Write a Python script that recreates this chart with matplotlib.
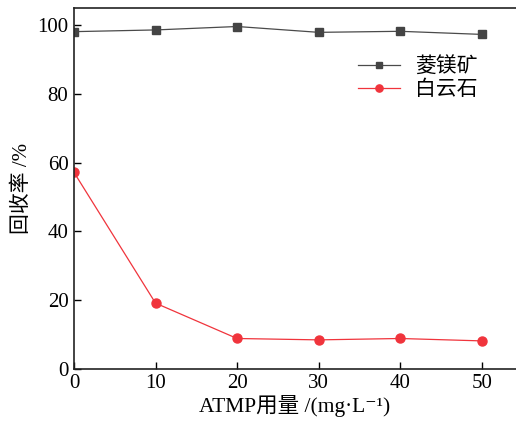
import matplotlib
matplotlib.use("Agg")
import matplotlib.pyplot as plt

plt.rcParams['font.family'] = ['Liberation Serif', 'Noto Sans CJK SC', 'DejaVu Sans']

dosage = [0, 10, 20, 30, 40, 50]
magnesite = [98.2, 98.7, 99.7, 98.0, 98.3, 97.4]
dolomite = [57.2, 19.1, 8.8, 8.4, 8.8, 8.1]
xticks = [0, 10, 20, 30, 40, 50]
yticks = [0, 20, 40, 60, 80, 100]

fig = plt.figure(figsize=(5.16, 4.22), dpi=100)
ax = fig.add_axes([0.1434, 0.1263, 0.8566, 0.8540])

ax.plot(dosage, magnesite, color='#4a4a4a', lw=0.9, marker='s', ms=6,
        mfc='#444444', mec='#444444', label='菱镁矿')
ax.plot(dosage, dolomite, color='#f0343c', lw=0.9, marker='o', ms=6.5,
        mfc='#f0343c', mec='#f0343c', label='白云石')

ax.set_xlim(0, 54.2)
ax.set_ylim(0, 105)
ax.set_xticks(xticks)
ax.set_yticks(yticks)
ax.tick_params(direction='in', length=5, width=1, labelsize=15, pad=4)
ax.spines['right'].set_visible(False)
for s in ['left', 'bottom', 'top']:
    ax.spines[s].set_linewidth(1.2)
    ax.spines[s].set_color('#222222')

ax.set_xlabel('ATMP用量 /(mg·L⁻¹)', fontsize=15.5, labelpad=1)
ax.set_ylabel('回收率 /%', fontsize=15, labelpad=4)

leg = ax.legend(loc='upper right', bbox_to_anchor=(0.955, 0.915), frameon=False,
                fontsize=15, handlelength=2.0, handletextpad=0.7,
                labelspacing=0.15, markerscale=0.8)

fig.savefig('out.png', dpi=100)
